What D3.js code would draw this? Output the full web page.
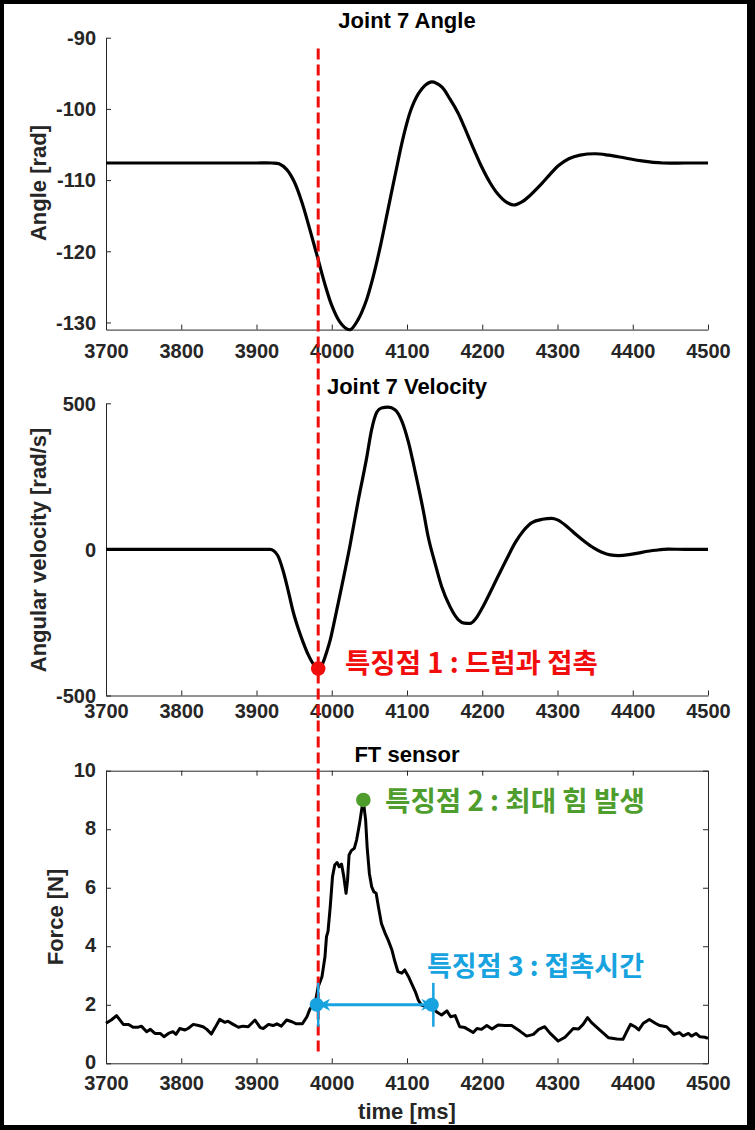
<!DOCTYPE html>
<html><head><meta charset="utf-8">
<script src="https://cdn.jsdelivr.net/npm/d3@7"></script>
<style>body{margin:0;background:#000}</style></head>
<body><svg id="c" width="755" height="1130"></svg>
<script>
// ---------- data ----------
const timeTicks = [3700,3800,3900,4000,4100,4200,4300,4400,4500];
const angleTicks = [-130,-120,-110,-100,-90];
const velTicks = [-500,0,500];
const forceTicks = [0,2,4,6,8,10];

const angleT = [3700,3800,3880,3900,3920,3930,3940,3950,3960,3970,3980,3990,4000,4010,4020,4025,4035,4045,4055,4065,4075,4085,4095,4105,4115,4125,4133,4146,4157,4168,4176,4184,4191,4199,4210,4221,4232,4242,4252,4262,4279,4290,4301,4315,4330,4350,4368,4390,4412,4440,4470,4500];
const angleV = [-107.6,-107.6,-107.6,-107.6,-107.6,-107.7,-108.5,-110.2,-113.0,-116.6,-120.4,-124.3,-127.6,-129.8,-130.9,-131.0,-129.6,-127.2,-123.6,-119.1,-114.0,-108.9,-104.0,-100.2,-97.9,-96.6,-96.2,-96.9,-98.6,-100.6,-102.5,-104.5,-106.2,-108.1,-110.3,-112.0,-113.1,-113.5,-113.1,-112.3,-110.5,-109.2,-108.0,-107.0,-106.5,-106.3,-106.5,-106.9,-107.3,-107.6,-107.6,-107.6];

const velT = [3700,3800,3880,3905,3918,3928,3936,3942,3949,3956,3962,3969,3976,3982,3988,3993,3998,4002,4013,4024,4035,4046,4053,4060,4066,4075,4084,4093,4102,4108,4115,4122,4128,4137,4146,4157,4168,4176,4184,4191,4199,4210,4221,4233,4244,4255,4266,4280,4292,4300,4314,4325,4336,4348,4359,4370,4381,4395,4412,4430,4447,4470,4500];
const velV = [0,0,0,0,0,-20,-79,-140,-216,-275,-318,-362,-394,-408,-390,-353,-310,-264,-130,10,165,308,410,470,484,487,478,440,366,300,216,128,45,-45,-127,-195,-240,-252,-253,-238,-205,-150,-92,-30,24,65,92,103,106,101,75,50,27,5,-10,-19,-21,-18,-10,-3,1,0,0];

const forceT = [3700,3707,3714,3723,3730,3736,3742,3747,3754,3759,3765,3772,3777,3783,3789,3793,3798,3805,3809,3816,3823,3829,3834,3840,3845,3851,3858,3862,3869,3876,3882,3889,3898,3905,3909,3916,3922,3927,3933,3940,3947,3953,3961,3967,3971,3975,3979,3982,3987,3991,3993,3995,3998,4001,4004,4007,4010,4013,4016,4019,4021,4023,4026,4030,4033,4037,4040,4042,4045,4047,4050,4053,4056,4059,4062,4066,4071,4075,4080,4084,4088,4093,4097,4102,4106,4111,4115,4119,4126,4135,4139,4146,4153,4158,4164,4170,4177,4188,4193,4199,4206,4213,4221,4230,4239,4250,4259,4268,4275,4283,4290,4301,4310,4321,4328,4334,4340,4345,4356,4368,4379,4387,4392,4397,4403,4408,4414,4422,4430,4436,4445,4455,4462,4467,4474,4478,4484,4489,4496,4500];
const forceV = [1.37,1.48,1.63,1.33,1.33,1.23,1.23,1.27,1.08,1.16,1.02,1.02,0.91,1.02,1.08,0.99,1.19,1.14,1.19,1.33,1.29,1.25,1.16,1.00,1.22,1.50,1.40,1.44,1.33,1.23,1.27,1.25,1.48,1.22,1.19,1.33,1.29,1.35,1.27,1.48,1.42,1.35,1.35,1.59,1.85,2.0,2.2,2.62,2.96,3.64,4.33,4.5,5.35,6.38,6.78,6.86,6.72,6.81,6.38,5.81,6.26,7.12,7.27,7.35,7.63,8.2,8.71,8.97,8.32,7.4,6.49,6.04,5.86,5.81,5.35,4.78,4.44,4.21,3.87,3.47,3.13,3.08,3.19,2.96,2.73,2.45,2.16,1.99,1.93,1.93,1.76,1.65,1.79,1.59,1.63,1.25,1.22,1.05,1.19,1.16,1.29,1.17,1.31,1.29,1.29,1.10,0.93,0.99,1.16,1.25,1.03,0.76,0.89,1.19,1.17,1.33,1.56,1.40,1.14,0.87,0.83,0.82,1.08,1.33,1.25,1.14,1.37,1.50,1.37,1.29,1.25,0.99,1.05,0.94,1.02,0.93,1.02,0.91,0.89,0.85];

const contactT = 3982;           // feature point 1 / dashed line
const p1 = {t:3982, v:-408};     // velocity minimum
const p2 = {t:4042, v:9.0};      // max force
const p3 = {t0:3982, t1:4135, v:2.0, lo:1.25, hi:2.75}; // contact time

const titles = ["Joint 7 Angle","Joint 7 Velocity","FT sensor"];
const ylabels = ["Angle [rad]","Angular velocity [rad/s]","Force [N]"];
const xlabel = "time [ms]";
const notes = ["특징점 1 : 드럼과 접촉","특징점 2 : 최대 힘 발생","특징점 3 : 접촉시간"];

// ---------- drawing ----------
const FONT = "'Liberation Sans', Arial, Helvetica, sans-serif";
const KFONT = "'Noto Sans CJK KR', 'Noto Sans CJK SC', sans-serif";
const AX = "#262626";
const RED = "#f20d0d", GREEN = "#4e9d2d", BLUE = "#17a3df";

const svg = d3.select("#c");
svg.append("rect").attr("width",755).attr("height",1130).attr("fill","#000");
svg.append("rect").attr("x",4).attr("y",4).attr("width",743).attr("height",1121).attr("fill","#fff");

const x = d3.scaleLinear().domain([3700,4500]).range([106,708]);
const yA = d3.scaleLinear().domain([-131,-90]).range([329.6,37.7]);
const yV = d3.scaleLinear().domain([-500,500]).range([695.5,403.3]);
const yF = d3.scaleLinear().domain([0,10]).range([1063.3,770.7]);
const fmt = d => String(d);

function style(g, fs){
  g.attr("font-family",FONT).attr("font-size",fs).attr("font-weight","bold");
  g.selectAll(".domain").attr("stroke",AX).attr("stroke-width",1);
  g.selectAll(".tick line").attr("stroke",AX).attr("stroke-width",1);
  g.selectAll(".tick text").attr("fill",AX);
}

function panel(y, yTicks, padX, box, dyY){
  const gx = svg.append("g").attr("transform",`translate(0,${y.range()[0]})`)
    .call(d3.axisBottom(x).tickValues(timeTicks).tickFormat(fmt).tickSize(-5).tickSizeOuter(0).tickPadding(padX));
  style(gx,20);
  const gy = svg.append("g").attr("transform",`translate(${x.range()[0]},0)`)
    .call(d3.axisLeft(y).tickValues(yTicks).tickFormat(fmt).tickSize(-5).tickSizeOuter(0).tickPadding(10));
  style(gy,20);
  gy.selectAll(".tick text").attr("dy",dyY);
  if(box){
    const gt = svg.append("g").attr("transform",`translate(0,${y.range()[1]})`)
      .call(d3.axisTop(x).tickValues(timeTicks).tickFormat("").tickSize(-5).tickSizeOuter(0));
    style(gt,20);
    const gr = svg.append("g").attr("transform",`translate(${x.range()[1]},0)`)
      .call(d3.axisRight(y).tickValues(yTicks).tickFormat("").tickSize(-5).tickSizeOuter(0));
    style(gr,20);
  }
}
panel(yA, angleTicks, 14, false, "0.34em");
panel(yV, velTicks, 8, false, "0.34em");
panel(yF, forceTicks, 13, true, "0.28em");

// titles & labels
const tY = [28.3, 393.5, 761.7];
titles.forEach((t,i)=>svg.append("text").attr("x",407).attr("y",tY[i]).attr("text-anchor","middle")
  .attr("font-family",FONT).attr("font-size",22).attr("font-weight","bold").attr("fill","#000").text(t));
const yl = [[46,183],[46,550],[62.5,917]];
ylabels.forEach((t,i)=>svg.append("text").attr("transform",`translate(${yl[i][0]},${yl[i][1]}) rotate(-90)`)
  .attr("text-anchor","middle").attr("font-family",FONT).attr("font-size",22).attr("font-weight","bold").attr("fill",AX).text(t));
svg.append("text").attr("x",407).attr("y",1119).attr("text-anchor","middle")
  .attr("font-family",FONT).attr("font-size",22).attr("font-weight","bold").attr("fill",AX).text(xlabel);

// curves
function curve(T,V,y,w,c){
  const data = T.map((t,i)=>[t,V[i]]);
  svg.append("path").datum(data).attr("fill","none").attr("stroke","#000").attr("stroke-width",w)
    .attr("stroke-linejoin","round").attr("d", d3.line().x(d=>x(d[0])).y(d=>y(d[1])).curve(c));
}
curve(angleT, angleV, yA, 3.2, d3.curveCatmullRom.alpha(0.5));
curve(velT, velV, yV, 3.2, d3.curveMonotoneX);
curve(forceT, forceV, yF, 3, d3.curveLinear);

// red dashed contact line
svg.append("line").attr("x1",x(contactT)).attr("x2",x(contactT))
  .attr("y1",yA(-91.5)).attr("y2",yF(0.35))
  .attr("stroke",RED).attr("stroke-width",3).attr("stroke-dasharray","11,5");

// contact time (blue)
const defs = svg.append("defs");
defs.append("marker").attr("id","ah").attr("viewBox","0 0 10 10").attr("refX",10).attr("refY",5)
  .attr("markerWidth",12).attr("markerHeight",12).attr("markerUnits","userSpaceOnUse")
  .attr("orient","auto-start-reverse")
  .append("path").attr("d","M0,0 L10,5 L0,10 L3,5 z").attr("fill",BLUE);
svg.append("line").attr("x1",x(p3.t0)).attr("x2",x(p3.t1)).attr("y1",yF(p3.v)).attr("y2",yF(p3.v))
  .attr("stroke",BLUE).attr("stroke-width",3)
  .attr("marker-start","url(#ah)").attr("marker-end","url(#ah)");
[p3.t0,p3.t1].forEach(t=>{
  svg.append("line").attr("x1",x(t)).attr("x2",x(t)).attr("y1",yF(p3.hi)).attr("y2",yF(p3.lo))
    .attr("stroke",BLUE).attr("stroke-width",2.5);
  svg.append("circle").attr("cx",x(t)-1.5).attr("cy",yF(p3.v)).attr("r",7).attr("fill",BLUE);
});

// dots
svg.append("circle").attr("cx",x(p1.t)).attr("cy",yV(p1.v)).attr("r",7.3).attr("fill",RED);
svg.append("circle").attr("cx",x(p2.t)).attr("cy",yF(p2.v)).attr("r",7.3).attr("fill",GREEN);

// annotations
const noteDef = [
  {x:345, y:661, w:253, c:RED},
  {x:385, y:799, w:260, c:GREEN},
  {x:427, y:964, w:217, c:BLUE}
];
notes.forEach((t,i)=>{
  const d = noteDef[i];
  const s = svg.append("text").attr("x",d.x).attr("y",d.y).attr("dominant-baseline","central")
    .attr("font-family",KFONT).attr("font-size",24).attr("font-weight","bold").attr("fill",d.c).text(t);
  const L = s.node().getComputedTextLength();
  if(L>0) s.attr("font-size", 24*d.w/L);
});
</script></body></html>
